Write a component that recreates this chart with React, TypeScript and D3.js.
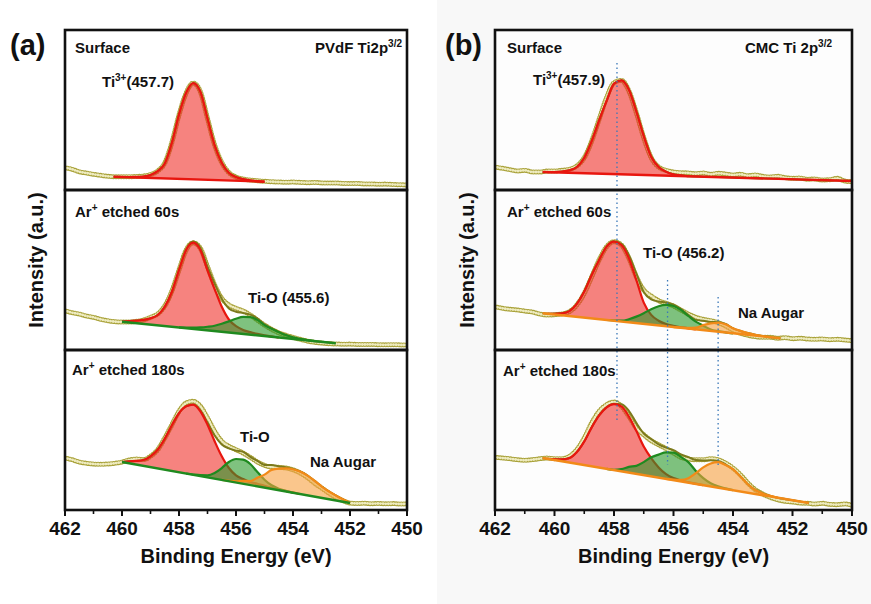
import React from "react";
import * as d3 from "d3";

const FONT = "'Liberation Sans', Arial, Helvetica, sans-serif";

// all spectra sampled from 462 eV down to 450 eV, every 0.25 eV
const gridStart = 462;
const gridStep = 0.25;
const xTicks = [462, 460, 458, 456, 454, 452, 450];
const xMinorTicks = [461, 459, 457, 455, 453, 451];

// ---- (a) PVdF ----
const pvdfSurface = [
  21.3, 19.7, 17.3, 16, 14.7, 13.7, 12.7, 12.3, 12.3, 12.3, 12.5, 13, 14.5, 18, 26, 46.5, 74, 96, 106, 97.3,
  70.5, 44, 26.5, 16.5, 12, 10, 9, 8.3, 7.7, 7.3, 7.0, 6.8, 7.0, 6.6, 6.3, 6.5, 6.1, 5.9, 6.0, 5.6,
  5.4, 5.5, 5.1, 5.0, 4.8, 4.9, 4.5, 4.3, 4.0,
];
const pvdfSurfaceBg: [number, number][] = [[460.3, 12.3], [455.0, 7.3]];
const pvdfSurfaceTi3 = [0, 0.2, 0.5, 1.2, 3, 7, 15, 36, 64.5, 86.4, 96.3, 87.9, 61.5, 35, 17.6, 7.8, 3.8, 1.8, 0.8, 0.3, 0];

const pvdf60 = [
  38.3, 36.3, 35, 33, 31.7, 29.7, 28.3, 27.3, 27, 27, 27.7, 29, 31.7, 35, 43, 58, 79, 99, 106.3, 100.7,
  82.3, 64, 50.7, 44, 40.7, 38, 34, 29, 24, 19.7, 16.3, 13.7, 11.7, 9.7, 8, 6.7, 6, 5.3, 5, 4.8,
  4.9, 4.6, 4.5, 4.6, 4.3, 4.2, 4.3, 4.1, 4.0,
];
const pvdf60Bg: [number, number][] = [[460.0, 27.3], [452.5, 5.7]];
const pvdf60Ti3 = [0, 1.4, 2.5, 3.9, 6.3, 10.3, 19.3, 35, 57.5, 78.2, 86.2, 79.6, 60, 42, 25, 13, 7, 4, 2.5, 1.5, 0.8, 0.4, 0];
const pvdf60TiO = [0, 0.6, 1.2, 2.2, 3.6, 5.3, 8, 11.1, 14.5, 17, 17.5, 15.5, 11, 8, 5.5, 3.2, 1.6, 0.8, 0.3, 0];

const pvdf180 = [
  51, 49.3, 47, 45.7, 45, 44.7, 45, 45.7, 47, 49, 50, 49.3, 52.7, 59.3, 71, 84.3, 97.7, 106, 107.7, 102.7,
  91, 77.7, 67.7, 62.7, 59.3, 56, 51.7, 47, 43.7, 42, 41.7, 41, 39.3, 36, 31.7, 26, 21, 16, 11.7, 8.3,
  6, 5.5, 5.8, 5.3, 5.5, 5.2, 5.4, 5, 5.2,
];
const pvdf180Bg: [number, number][] = [[460.0, 47], [452.0, 6]];
const pvdf180Ti3 = [0, 2, 3.6, 5.8, 10.8, 18.7, 31, 45.7, 59.2, 67.2, 70.1, 64.8, 52.7, 37.4, 23.6, 13.2, 7.2, 4.8, 3, 2.6, 1.8, 1.2, 0.8, 0.5, 0.3, 0];
const pvdf180TiO = [0, 0.3, 0.9, 2.1, 5.7, 11.9, 19.2, 23.5, 24.1, 21.1, 14.3, 7.9, 3.6, 1.5, 0.6, 0];
const pvdf180Na = [0, 0.4, 1.2, 3, 4, 8.5, 13, 19, 21.5, 23, 23.5, 22.5, 20, 16, 11.6, 7.9, 5, 2.4, 0];

// ---- (b) CMC ----
const cmcSurface = [
  22, 20.7, 19.3, 18, 18.7, 17, 17, 18, 18, 18.7, 19.7, 23, 31.3, 48, 69.7, 91.3, 106.3, 108.7, 98, 76.3,
  51.3, 31.3, 22, 18.7, 17, 16.3, 16, 15.3, 16, 14.7, 15.7, 15, 14, 14.7, 13.3, 14, 12.7, 12, 12.7, 11.3,
  10.7, 11, 9.7, 10, 9, 9.3, 10.7, 8, 7.3,
];
const cmcSurfaceBg: [number, number][] = [[460.4, 17], [450.0, 8]];
const cmcSurfaceTi3 = [0, 0.3, 1, 2.5, 6, 15.5, 32.4, 53.4, 72.9, 90.5, 94, 85, 63.5, 39, 18.5, 8.4, 3.9, 1.5, 0.7, 0];

const cmc60 = [
  42.3, 40.7, 39.7, 39, 38, 37, 35, 34, 34.3, 35, 37.3, 44, 55.7, 72.3, 89, 102.3, 107.3, 104, 90.7, 72.3,
  59, 53, 48.3, 45.7, 43, 39, 35, 31.7, 29.7, 28.3, 26.3, 23, 19, 15.7, 13.7, 12.3, 11.7, 11.7, 10.7, 11.3,
  10.3, 10.7, 10, 9.7, 10, 9.3, 9.7, 9, 8.3,
];
const cmc60Bg: [number, number][] = [[460.4, 35.7], [452.4, 10.7]];
const cmc60Ti3 = [0, 0.8, 2, 5, 13, 26.1, 43.5, 59.3, 73.4, 79.2, 76.6, 64.1, 43.2, 21.3, 9.8, 4.8, 2.3, 1.2, 0.6, 0.3, 0];
const cmc60TiO = [0, 0.3, 0.9, 3.1, 6.5, 10.7, 15.5, 19.2, 21.3, 21.1, 17.9, 12.6, 7.7, 4.5, 1.5, 0.6, 0.2, 0];
const cmc60Na = [0, 0.3, 0.8, 1.8, 5, 7.5, 9, 8.3, 5, 3.2, 1.8, 0.9, 0.4, 0];

const cmc180 = [
  51.7, 51, 50.3, 49.3, 48.7, 49.3, 50.3, 51, 50.3, 50.3, 52.7, 59.3, 71, 86, 97.7, 104.3, 107, 102.7, 92.7, 81,
  74.3, 68.3, 64.3, 60.3, 56, 51.7, 50, 49.3, 49.3, 50.3, 49.3, 46, 41, 34.3, 26, 19.3, 15, 11.7, 9.3, 7.7,
  7, 6, 5.7, 5, 5.7, 4.7, 4.3, 5, 3.7,
];
const cmc180Bg: [number, number][] = [[460.4, 51], [451.45, 6]];
const cmc180Ti3 = [0, 0.8, 2, 4.5, 11.7, 23.6, 38.9, 52.1, 61.4, 65.9, 64.9, 56.1, 43, 28.6, 18.2, 10.2, 4.7, 2, 1, 0.5, 0.2, 0];
const cmc180TiO = [0, 0.3, 2.2, 5.7, 8, 13, 19, 23, 26.5, 27.5, 24.5, 20.5, 13, 7, 3.2, 1.3, 0.5, 0];
const cmc180Na = [0, 0.5, 1.5, 4.5, 10.7, 17.7, 22.9, 25.5, 24, 21, 15, 8.5, 4, 1.8, 0.6, 0];

// reference lines in (b): energy, [row, intensity] start and end
const cmcGuideEnergies = [457.9, 456.2, 454.5];
const cmcGuideFrom = [[0, 126], [1, 69], [1, 52]];
const cmcGuideTo = [[2, 88], [2, 44], [2, 43]];

const palette = {
  red: { line: "#e8160f", fill: "#f0302a" },
  green: { line: "#1f8a1f", fill: "#2a9a2a" },
  orange: { line: "#f28a18", fill: "#f7a040" },
};
type ColorKey = keyof typeof palette;
type Comp = { start: number; h: number[]; color: ColorKey };
type RowSpec = { data: number[]; bg: [number, number][]; bgColor: ColorKey; comps: Comp[] };

const pvdfRows: RowSpec[] = [
  { data: pvdfSurface, bg: pvdfSurfaceBg, bgColor: "red", comps: [{ start: 460, h: pvdfSurfaceTi3, color: "red" }] },
  {
    data: pvdf60, bg: pvdf60Bg, bgColor: "green",
    comps: [{ start: 460, h: pvdf60Ti3, color: "red" }, { start: 458, h: pvdf60TiO, color: "green" }],
  },
  {
    data: pvdf180, bg: pvdf180Bg, bgColor: "green",
    comps: [
      { start: 460, h: pvdf180Ti3, color: "red" },
      { start: 457.75, h: pvdf180TiO, color: "green" },
      { start: 456.5, h: pvdf180Na, color: "orange" },
    ],
  },
];
const cmcRows: RowSpec[] = [
  { data: cmcSurface, bg: cmcSurfaceBg, bgColor: "red", comps: [{ start: 460.25, h: cmcSurfaceTi3, color: "red" }] },
  {
    data: cmc60, bg: cmc60Bg, bgColor: "orange",
    comps: [
      { start: 460.25, h: cmc60Ti3, color: "red" },
      { start: 458.25, h: cmc60TiO, color: "green" },
      { start: 456, h: cmc60Na, color: "orange" },
    ],
  },
  {
    data: cmc180, bg: cmc180Bg, bgColor: "orange",
    comps: [
      { start: 460.25, h: cmc180Ti3, color: "red" },
      { start: 458.25, h: cmc180TiO, color: "green" },
      { start: 456.25, h: cmc180Na, color: "orange" },
    ],
  },
];

const rowTops = [30, 190, 350];
const rowH = 160;
const yScaleFor = (r: number) => d3.scaleLinear().domain([-1, 159]).range([rowTops[r] + rowH, rowTops[r]]);

function RowPlot({ row, x, r, frameFill }: { row: RowSpec; x: d3.ScaleLinear<number, number>; r: number; frameFill: string }) {
  const y = yScaleFor(r);
  const [x0, x1] = x.range();
  const top = rowTops[r];
  const bg = d3.scaleLinear().domain([row.bg[0][0], row.bg[1][0]]).range([row.bg[0][1], row.bg[1][1]]);

  const pts = row.data.map((v, i) => [gridStart - i * gridStep, v] as [number, number]);
  const line = d3.line<[number, number]>().x((d) => x(d[0])).y((d) => y(d[1])).curve(d3.curveMonotoneX);

  // fit envelope = background + sum of components
  const sum = new Map<number, number>();
  row.comps.forEach((c) =>
    c.h.forEach((v, i) => {
      const k = Math.round((c.start - i * gridStep) * 4);
      sum.set(k, (sum.get(k) || 0) + v);
    })
  );
  const [e0, e1] = [row.bg[0][0], row.bg[1][0]];
  const env: [number, number][] = [[e0, bg(e0)]];
  for (let k = Math.floor(e0 * 4); k >= Math.ceil(e1 * 4); k--) {
    const e = k / 4;
    if (e < e0 && e > e1) env.push([e, bg(e) + (sum.get(k) || 0)]);
  }
  env.push([e1, bg(e1)]);

  const clipId = `clip-${x0}-${r}`;
  return (
    <g>
      <defs>
        <clipPath id={clipId}>
          <rect x={x0} y={top} width={x1 - x0} height={rowH} />
        </clipPath>
      </defs>
      <rect x={x0} y={top} width={x1 - x0} height={rowH} fill={frameFill} />
      <g clipPath={`url(#${clipId})`}>
        <path d={line(pts) || ""} fill="none" stroke="#a9a23a" strokeWidth={5} strokeDasharray="0 2.6" strokeLinecap="round" />
        <path d={line(pts) || ""} fill="none" stroke="#eeebbf" strokeWidth={2.8} strokeDasharray="0 2.6" strokeLinecap="round" />
        <path d={line(env) || ""} fill="none" stroke="#7c7a1c" strokeWidth={2} />
        {row.comps.map((c, ci) => {
          const cp = c.h.map((v, i) => [c.start - i * gridStep, v] as [number, number]);
          const area = d3
            .area<[number, number]>()
            .x((d) => x(d[0]))
            .y0((d) => y(bg(d[0])))
            .y1((d) => y(bg(d[0]) + d[1]))
            .curve(d3.curveMonotoneX);
          const top = d3
            .line<[number, number]>()
            .x((d) => x(d[0]))
            .y((d) => y(bg(d[0]) + d[1]))
            .curve(d3.curveMonotoneX);
          return (
            <g key={ci}>
              <path d={area(cp) || ""} fill={palette[c.color].fill} fillOpacity={0.6} />
              <path d={top(cp) || ""} fill="none" stroke={palette[c.color].line} strokeWidth={2.2} />
            </g>
          );
        })}
        <line
          x1={x(e0)} y1={y(bg(e0))} x2={x(e1)} y2={y(bg(e1))}
          stroke={palette[row.bgColor].line} strokeWidth={2.4}
        />
      </g>
    </g>
  );
}

function Sup({ t, size = 10 }: { t: string; size?: number }) {
  return (
    <tspan fontSize={size} dy={-6}>
      {t}
    </tspan>
  );
}

function Panel({ rows, xr, frameFill, children }: { rows: RowSpec[]; xr: [number, number]; frameFill: string; children?: any }) {
  const x = d3.scaleLinear().domain([462, 450]).range(xr);
  const bottom = rowTops[2] + rowH;
  return (
    <g>
      {rows.map((row, r) => (
        <RowPlot key={r} row={row} x={x} r={r} frameFill={frameFill} />
      ))}
      {children && children(x)}
      {rowTops.map((t, r) => (
        <rect key={r} x={xr[0]} y={t} width={xr[1] - xr[0]} height={rowH} fill="none" stroke="#111" strokeWidth={2.6} />
      ))}
      {xTicks.map((t) => (
        <g key={t}>
          <line x1={x(t)} x2={x(t)} y1={bottom} y2={bottom + 6} stroke="#111" strokeWidth={2} />
          <text x={x(t)} y={535} textAnchor="middle" fontSize={19} fontWeight="bold" fill="#111">
            {t}
          </text>
        </g>
      ))}
      {xMinorTicks.map((t) => (
        <line key={t} x1={x(t)} x2={x(t)} y1={bottom} y2={bottom + 4} stroke="#111" strokeWidth={1.6} />
      ))}
      <text x={(xr[0] + xr[1]) / 2} y={563} textAnchor="middle" fontSize={20} fontWeight="bold" fill="#111">
        Binding Energy (eV)
      </text>
    </g>
  );
}

export default function App() {
  return (
    <svg
      width={871}
      height={604}
      style={{ position: "absolute", left: 0, top: 0, background: "#fff" }}
      fontFamily={FONT}
    >
      <rect x={437} y={0} width={434} height={604} fill="#f8f8f8" />

      <Panel rows={pvdfRows} xr={[65, 407]} frameFill="#ffffff" />
      <Panel
        rows={cmcRows}
        xr={[495, 852]}
        frameFill="#fdfdfd"
        children={(x: d3.ScaleLinear<number, number>) =>
          cmcGuideEnergies.map((e, i) => (
            <line
              key={i}
              x1={x(e)}
              x2={x(e)}
              y1={yScaleFor(cmcGuideFrom[i][0])(cmcGuideFrom[i][1])}
              y2={yScaleFor(cmcGuideTo[i][0])(cmcGuideTo[i][1])}
              stroke="#3a78b8"
              strokeWidth={1.3}
              strokeDasharray="1.5 3"
            />
          ))
        }
      />

      <g fontWeight="bold" fill="#111">
        {/* panel (a) */}
        <text x={10} y={55} fontSize={29}>(a)</text>
        <text x={43} y={260} fontSize={20} textAnchor="middle" transform="rotate(-90 43 260)">Intensity (a.u.)</text>
        <text x={75} y={53} fontSize={15}>Surface</text>
        <text x={402} y={53} fontSize={15} textAnchor="end">
          PVdF Ti2p<Sup t="3/2" />
        </text>
        <text x={102} y={87} fontSize={15}>
          Ti<Sup t="3+" /><tspan dy={6}>(457.7)</tspan>
        </text>
        <text x={75} y={217} fontSize={15}>
          Ar<Sup t="+" /><tspan dy={6}>{" etched 60s"}</tspan>
        </text>
        <text x={248} y={303} fontSize={15}>Ti-O (455.6)</text>
        <text x={72} y={375} fontSize={15}>
          Ar<Sup t="+" /><tspan dy={6}>{" etched 180s"}</tspan>
        </text>
        <text x={240} y={442} fontSize={15}>Ti-O</text>
        <text x={310} y={467} fontSize={15}>Na Augar</text>

        {/* panel (b) */}
        <text x={445} y={55} fontSize={29}>(b)</text>
        <text x={474} y={260} fontSize={20} textAnchor="middle" transform="rotate(-90 474 260)">Intensity (a.u.)</text>
        <text x={507} y={53} fontSize={15}>Surface</text>
        <text x={832} y={53} fontSize={15} textAnchor="end">
          CMC Ti 2p<Sup t="3/2" />
        </text>
        <text x={533} y={85} fontSize={15}>
          Ti<Sup t="3+" /><tspan dy={6}>(457.9)</tspan>
        </text>
        <text x={507} y={217} fontSize={15}>
          Ar<Sup t="+" /><tspan dy={6}>{" etched 60s"}</tspan>
        </text>
        <text x={643} y={258} fontSize={15}>Ti-O (456.2)</text>
        <text x={738} y={318} fontSize={15}>Na Augar</text>
        <text x={503} y={376} fontSize={15}>
          Ar<Sup t="+" /><tspan dy={6}>{" etched 180s"}</tspan>
        </text>
      </g>
    </svg>
  );
}
